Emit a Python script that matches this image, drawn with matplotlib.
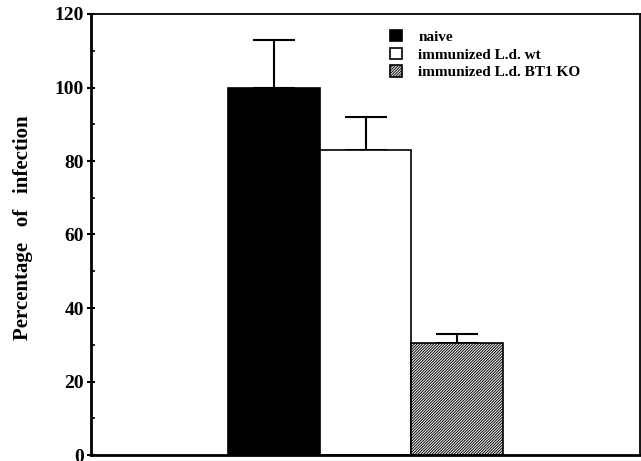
import matplotlib.pyplot as plt
from matplotlib.ticker import MultipleLocator

# --- Data ---
groups = ["naive", "immunized L.d. wt", "immunized L.d. BT1 KO"]
infection = [100, 83, 30.5]
errors = [13, 9, 2.5]
colors = ["black", "white", "white"]
hatches = [None, None, "/" * 12]

plt.rcParams["font.family"] = ["Liberation Serif", "DejaVu Serif"]
plt.rcParams["font.weight"] = "bold"
plt.rcParams["hatch.linewidth"] = 0.7

fig = plt.figure(figsize=(6.41, 4.61), dpi=100)
ax = fig.add_axes([91 / 641, 6 / 461, 549 / 641, 441 / 461])

x = range(len(groups))
for i in x:
    ax.bar(i, infection[i], width=1.0, color=colors[i], edgecolor="black",
           linewidth=1.2, hatch=hatches[i], label=groups[i], zorder=2)
    ax.errorbar(i, infection[i], yerr=[[0], [errors[i]]], fmt="none",
                ecolor="black", elinewidth=1.5, capsize=15, capthick=1.5, zorder=1)

ax.set_xlim(-2.0, 4.0)
ax.set_ylim(0, 120)
ax.set_xticks([])
ax.yaxis.set_major_locator(MultipleLocator(20))
ax.yaxis.set_minor_locator(MultipleLocator(10))
ax.tick_params(axis="y", which="major", direction="inout", length=6, width=1.5,
               labelsize=14, pad=2)
ax.tick_params(axis="y", which="minor", direction="in", length=3, width=1.2)

for side in ["top", "right"]:
    ax.spines[side].set_linewidth(1.3)
for side in ["left", "bottom"]:
    ax.spines[side].set_linewidth(2)

ax.set_ylabel("Percentage   of   infection", fontsize=15, fontweight="bold")
ax.yaxis.set_label_coords(-0.106, 0.515)

ax.legend(loc="upper left", bbox_to_anchor=(0.52, 0.995), frameon=False,
          fontsize=11, handlelength=0.75, handleheight=0.75, handletextpad=1.1,
          labelspacing=0.25)

fig.savefig("out.png", dpi=100)
